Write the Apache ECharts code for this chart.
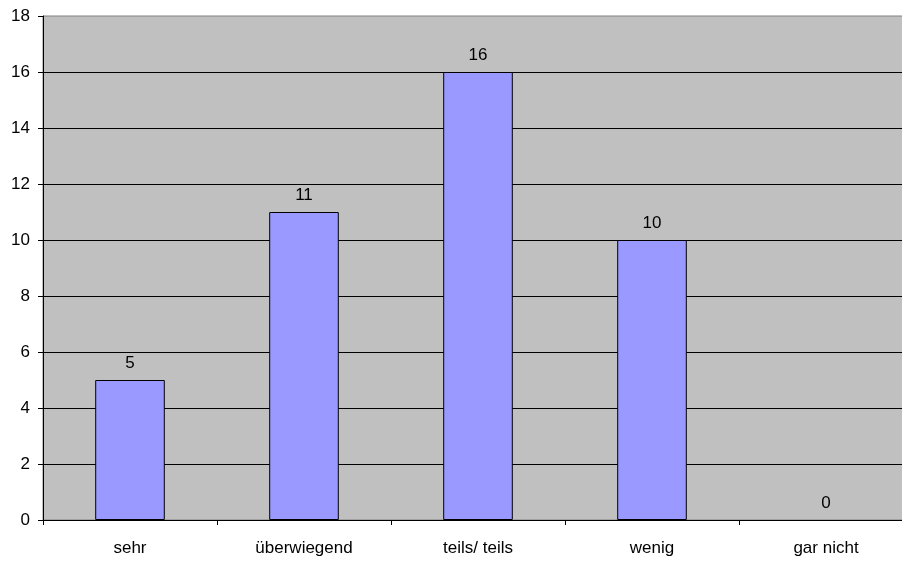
<!DOCTYPE html>
<html lang="de">
<head>
    <meta charset="UTF-8">
    <title>Chart</title>
    <script src="https://cdn.jsdelivr.net/npm/echarts@6/dist/echarts.min.js"></script>
    <style>
        html, body { margin: 0; padding: 0; background: #fff; overflow: hidden; }
        #chart { width: 913px; height: 561px; }
    </style>
</head>
<body>
<div id="chart"></div>
<script>
// Daten
var categories = ['sehr', 'überwiegend', 'teils/ teils', 'wenig', 'gar nicht'];
var values = [5, 11, 16, 10, 0];

var myChart = echarts.init(document.getElementById('chart'));
var option = {
    animation: false,
    textStyle: { fontFamily: 'Liberation Sans, Arial, sans-serif' },
    grid: {
        left: 43, right: 0, top: 16, bottom: 41,
        show: true,
        backgroundColor: '#C0C0C0',
        borderColor: '#808080',
        borderWidth: 1
    },
    xAxis: {
        type: 'category',
        data: categories,
        axisLine: { lineStyle: { color: '#000', width: 1 } },
        axisTick: { show: true, alignWithLabel: false, length: 5, lineStyle: { color: '#000' } },
        axisLabel: { color: '#000', fontSize: 17, margin: 20 }
    },
    yAxis: {
        type: 'value',
        min: 0, max: 18, interval: 2,
        axisLine: { show: true, lineStyle: { color: '#000', width: 1 } },
        axisTick: { show: true, length: 5, lineStyle: { color: '#000' } },
        axisLabel: { color: '#000', fontSize: 17, margin: 13 },
        splitLine: { show: true, showMaxLine: false, lineStyle: { color: '#000', width: 1 } }
    },
    series: [{
        type: 'bar',
        // Balken mit Wert 0 ohne Rahmen zeichnen
        data: values.map(function (v) {
            return v === 0 ? { value: v, itemStyle: { borderWidth: 0 } } : v;
        }),
        barWidth: '40%',
        itemStyle: { color: '#9999FF', borderColor: '#000', borderWidth: 1 },
        label: { show: true, position: 'top', distance: 8, color: '#000', fontSize: 17 }
    }]
};
myChart.setOption(option);
</script>
</body>
</html>
